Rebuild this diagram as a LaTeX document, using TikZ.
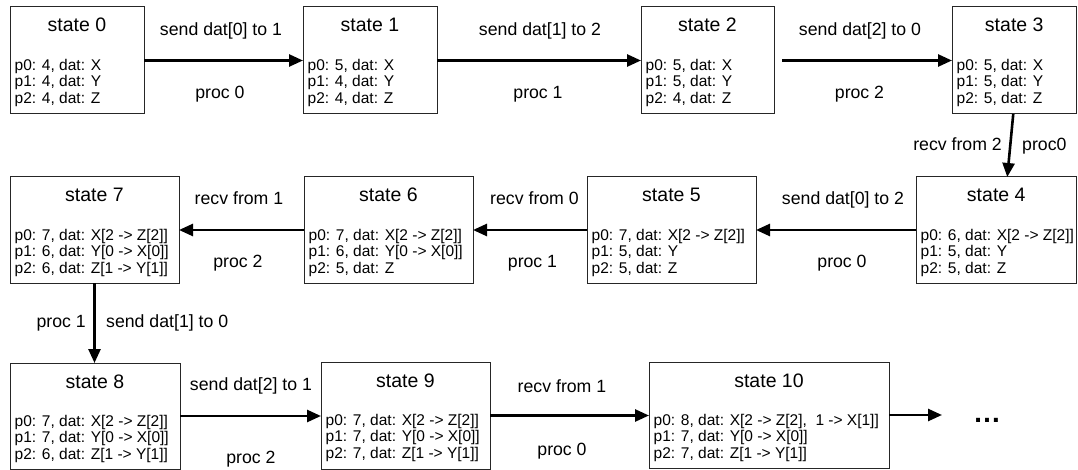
\documentclass[tikz,border=0pt]{standalone}
\usepackage{fontspec}
\setmainfont{Liberation Sans}
\usetikzlibrary{arrows.meta,calc}

\tikzset{
  sbox/.style={draw=black!85, line width=1pt, inner sep=0pt, outer sep=0pt},
  stitle/.style={inner sep=0pt, anchor=base, font=\fontsize{19.5}{22}\selectfont},
  sline/.style={inner sep=0pt, anchor=base west, font=\fontsize{15.5}{17}\selectfont},
  lbl/.style={inner sep=0pt, anchor=base, font=\fontsize{17.7}{20}\selectfont},
  flow/.style={line width=2.6pt, -{Triangle[length=14pt,width=12pt]}},
}

% state box: name, left, top, right, bottom, title, three lines of data
\newcommand\stnode[9]{%
  \node[sbox, minimum width={(#4-#2)*1pt}, minimum height={(#5-#3)*1pt}]
    (#1) at ({(#2+#4)/2},{(#3+#5)/2}) {};
  \node[stitle] (#1-t) at ($(#1.north)+(0,25)$) {#6};
  \node[sline] (#1-a) at ($(#1.north west)+(4.5,63.3)$) {#7};
  \node[sline] (#1-b) at ($(#1.north west)+(4.5,79.8)$) {#8};
  \node[sline] (#1-c) at ($(#1.north west)+(4.5,96.3)$) {#9};
}

\begin{document}
\begin{tikzpicture}[x=1pt, y=-1pt]
\useasboundingbox (0,0) rectangle (1078,470);

% first row
\stnode{s0}{10}{7}{144}{114}{state 0}{p0: 4, dat: X}{p1: 4, dat: Y}{p2: 4, dat: Z}
\stnode{s1}{303}{7}{437}{114}{state 1}{p0: 5, dat: X}{p1: 4, dat: Y}{p2: 4, dat: Z}
\stnode{s2}{641}{7}{774}{114}{state 2}{p0: 5, dat: X}{p1: 5, dat: Y}{p2: 4, dat: Z}
\stnode{s3}{952}{7}{1076.5}{114}{state 3}{p0: 5, dat: X}{p1: 5, dat: Y}{p2: 5, dat: Z}

% second row
\stnode{s4}{916}{177}{1076.5}{283}{state 4}{p0: 6, dat: X[2 -> Z[2]]}{p1: 5, dat: Y}{p2: 5, dat: Z}
\stnode{s5}{587}{177}{756}{283}{state 5}{p0: 7, dat: X[2 -> Z[2]]}{p1: 5, dat: Y}{p2: 5, dat: Z}
\stnode{s6}{304}{177}{473}{283}{state 6}{p0: 7, dat: X[2 -> Z[2]]}{p1: 6, dat: Y[0 -> X[0]]}{p2: 5, dat: Z}
\stnode{s7}{10}{177}{179}{283}{state 7}{p0: 7, dat: X[2 -> Z[2]]}{p1: 6, dat: Y[0 -> X[0]]}{p2: 6, dat: Z[1 -> Y[1]]}

% third row
\stnode{s8}{10}{363}{180}{469}{state 8}{p0: 7, dat: X[2 -> Z[2]]}{p1: 7, dat: Y[0 -> X[0]]}{p2: 6, dat: Z[1 -> Y[1]]}
\stnode{s9}{321}{362}{490}{469}{state 9}{p0: 7, dat: X[2 -> Z[2]]}{p1: 7, dat: Y[0 -> X[0]]}{p2: 7, dat: Z[1 -> Y[1]]}
\stnode{s10}{649}{362}{889}{468}{state 10}{p0: 8, dat: X[2 -> Z[2],\ \ 1 -> X[1]]}{p1: 7, dat: Y[0 -> X[0]]}{p2: 7, dat: Z[1 -> Y[1]]}

% transitions
\draw[flow] (s0.east) -- (s1.west);
\draw[flow] (s1.east) -- (s2.west);
\draw[flow, shorten <=8pt] (s2.east) -- (s3.west);
\draw[flow] ($(s3.south)+(-1,0)$) -- ($(s4.north)+(11,0)$);
\draw[flow] (s4.west) -- (s5.east);
\draw[flow] (s5.west) -- (s6.east);
\draw[flow] (s6.west) -- (s7.east);
\draw[flow] (s7.south) -- (s7.south |- s8.north);
\draw[flow] (s8.east) -- (s8.east -| s9.west);
\draw[flow] (s9.east) -- (s9.east -| s10.west);
\coordinate (moreend) at (942,415);
\draw[flow] (s10.east) -- (moreend);
\node[inner sep=0pt, anchor=base, font=\fontsize{28}{30}\selectfont\bfseries] (more) at (987,422) {…};

% transition labels
\node[lbl] (l01a) at (221,36) {send dat[0] to 1};
\node[lbl] (l01b) at (220,99) {proc 0};
\node[lbl] (l12a) at (540,36) {send dat[1] to 2};
\node[lbl] (l12b) at (538,99) {proc 1};
\node[lbl] (l23a) at (860,36) {send dat[2] to 0};
\node[lbl] (l23b) at (859.5,99) {proc 2};
\node[lbl, anchor=base east] (l34a) at (1002,151) {recv from 2};
\node[lbl, anchor=base west] (l34b) at (1022,151) {proc0};

\node[lbl] (l45a) at (843,205) {send dat[0] to 2};
\node[lbl] (l45b) at (842,267) {proc 0};
\node[lbl] (l56a) at (534.5,205) {recv from 0};
\node[lbl] (l56b) at (532.5,268) {proc 1};
\node[lbl] (l67a) at (239,205) {recv from 1};
\node[lbl] (l67b) at (238,267) {proc 2};
\node[lbl, anchor=base east] (l78a) at (86,327) {proc 1};
\node[lbl, anchor=base west] (l78b) at (106,327) {send dat[1] to 0};

\node[lbl] (l89a) at (251,390) {send dat[2] to 1};
\node[lbl] (l89b) at (251,463) {proc 2};
\node[lbl] (l910a) at (562,392) {recv from 1};
\node[lbl] (l910b) at (562,455) {proc 0};
\end{tikzpicture}
\end{document}
